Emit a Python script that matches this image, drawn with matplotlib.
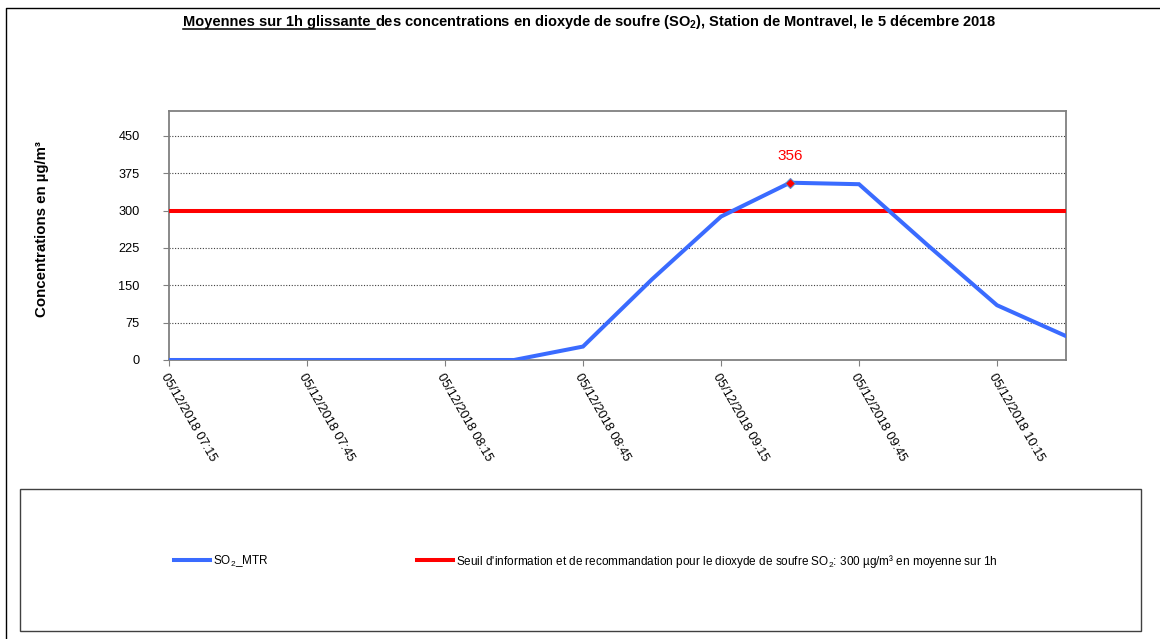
import numpy as np
import matplotlib
matplotlib.use("Agg")
import matplotlib.pyplot as plt
from matplotlib.patches import Rectangle
from matplotlib.lines import Line2D

plt.rcParams['font.family'] = ['Liberation Sans', 'DejaVu Sans']
plt.rcParams['mathtext.fontset'] = 'custom'
plt.rcParams['mathtext.rm'] = 'Liberation Sans'
plt.rcParams['mathtext.bf'] = 'Liberation Sans:bold'

# quarter-hour sliding means, SO2 at Montravel
times = ["05/12/2018 07:15", "05/12/2018 07:30", "05/12/2018 07:45", "05/12/2018 08:00",
         "05/12/2018 08:15", "05/12/2018 08:30", "05/12/2018 08:45", "05/12/2018 09:00",
         "05/12/2018 09:15", "05/12/2018 09:30", "05/12/2018 09:45", "05/12/2018 10:00",
         "05/12/2018 10:15", "05/12/2018 10:30"]
so2 = [0, 0, 0, 0, 0, 0, 27, 162, 288, 356, 353, 230, 110, 48]
threshold = 300
yticks = [0, 75, 150, 225, 300, 375, 450]

W, H = 1160, 639
fig = plt.figure(figsize=(W / 100, H / 100), dpi=100)
ax = fig.add_axes([169 / W, 1 - 360 / H, (1066 - 169) / W, (360 - 111) / H])

x = np.arange(len(times))
imax = int(np.argmax(so2))

ax.plot(x, so2, color='#3a6bff', lw=2.9, solid_joinstyle='miter', label='SO$_2$_MTR', zorder=4)
ax.axhline(threshold, color='#ff0000', lw=2.9, zorder=3,
           label="Seuil d'information et de recommandation pour le dioxyde de soufre SO$_2$: 300 µg/m³ en moyenne sur 1h")
ax.plot(x[imax], so2[imax], marker='D', ms=5, mfc='#ff0000', mec='#5a8ad0', mew=0.8, zorder=5)
ax.annotate(str(so2[imax]), (x[imax], so2[imax]), xytext=(0, 27), textcoords='offset pixels',
            ha='center', va='center', color='#ff0000', fontsize=11)

ax.set_xlim(0, len(times) - 1)
ax.set_ylim(0, 500)
ax.set_yticks(yticks)
ax.set_xticks(x[::2])
ax.set_xticklabels(times[::2], rotation=-60, ha='left', va='top', rotation_mode='anchor', fontsize=9.2)
ax.tick_params(axis='y', direction='out', length=4, color='#808080', pad=17, labelsize=9.2)
ax.tick_params(axis='x', direction='out', length=4, color='#808080', pad=4)
for yv in yticks[1:]:
    ax.axhline(yv, color='#404040', lw=0.8, ls=(0, (1, 1.5)), zorder=1)
for s in ax.spines.values():
    s.set_color('#808080')
    s.set_linewidth(1.3)

ax.set_ylabel('Concentrations en µg/m³', fontsize=10.8, fontweight='bold')
ax.yaxis.set_label_coords(-0.134, 0.524)

# legend box spanning the lower part
fig.patches.append(Rectangle((20 / W, 1 - 631 / H), (1141 - 20) / W, (631 - 489) / H,
                             transform=fig.transFigure, fill=False, ec='#404040', lw=1))
handles, labels = ax.get_legend_handles_labels()
fig.legend(handles, labels, loc='center left', bbox_to_anchor=(163 / W, 1 - 561 / H),
           ncol=2, frameon=False, fontsize=8.5, handlelength=3.1, handletextpad=0.2,
           columnspacing=12.6)

# outer frame
fig.lines.append(Line2D([6 / W, 6 / W, 1], [0, 1 - 8 / H, 1 - 8 / H], transform=fig.transFigure,
                        color='black', lw=1))

# title with underlined first part
renderer = fig.canvas.get_renderer()
ty = 1 - 26 / H
t1 = fig.text(183 / W, ty, 'Moyennes sur 1h glissante ', fontsize=10.5, fontweight='bold', va='baseline')
bb = t1.get_window_extent(renderer)
fig.text(bb.x1 / W, ty, r'des concentrations en dioxyde de soufre (SO$_\mathbf{2}$), Station de Montravel, le 5 décembre 2018',
         fontsize=10.5, fontweight='bold', va='baseline')
fig.lines.append(Line2D([bb.x0 / W, bb.x1 / W], [1 - 29 / H, 1 - 29 / H], transform=fig.transFigure,
                        color='black', lw=1.1))

fig.savefig('out.png', dpi=100)
